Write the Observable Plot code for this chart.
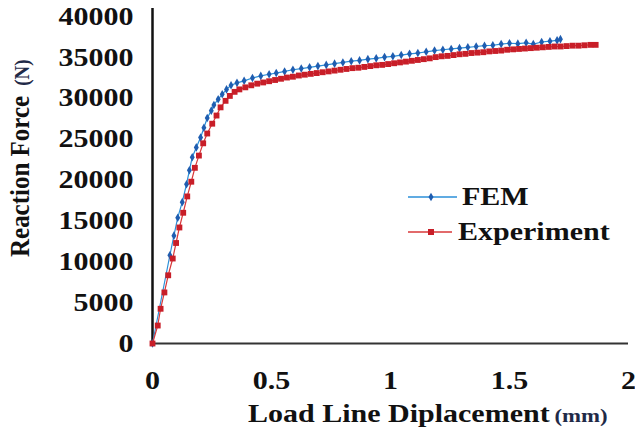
<!DOCTYPE html>
<html>
<head>
<meta charset="utf-8">
<script src="https://cdn.jsdelivr.net/npm/d3@7"></script>
<script src="https://cdn.jsdelivr.net/npm/@observablehq/plot@0.6"></script>
<style>
  html, body { margin: 0; padding: 0; background: #fff; }
  #chart { width: 635px; height: 430px; }
</style>
</head>
<body>
<div id="chart"></div>
<script>
// ---- data ----
const xTicks = [0, 0.5, 1, 1.5, 2];
const yTicks = [0, 5000, 10000, 15000, 20000, 25000, 30000, 35000, 40000];
const seriesNames = ["FEM", "Experiment"];

const femX = [0, 0.073, 0.090, 0.106, 0.125, 0.143, 0.155, 0.167, 0.184, 0.202, 0.216, 0.230, 0.247, 0.258, 0.276, 0.293, 0.311, 0.330, 0.355,
  0.385, 0.420, 0.455, 0.490, 0.520, 0.555, 0.590, 0.625, 0.660, 0.695, 0.730, 0.765, 0.800, 0.835, 0.870, 0.905, 0.940, 0.975,
  1.010, 1.045, 1.080, 1.115, 1.150, 1.185, 1.220, 1.255, 1.290, 1.325, 1.360, 1.395, 1.430, 1.465, 1.500, 1.535, 1.570, 1.600,
  1.635, 1.670, 1.700, 1.714];
const femY = [0, 10800, 13200, 15400, 17300, 19500, 21200, 22800, 24000, 25200, 26400, 27600, 28500, 29200, 29900, 30500, 31100, 31600, 31900,
  32150, 32500, 32750, 32950, 33100, 33300, 33500, 33650, 33800, 33950, 34100, 34250, 34400, 34550, 34650, 34800, 34900, 35050,
  35150, 35300, 35450, 35550, 35700, 35850, 35950, 36050, 36150, 36250, 36350, 36450, 36500, 36650, 36750, 36700, 36800, 36650,
  36900, 37000, 37100, 37250];

const expX = [0, 0.022, 0.034, 0.050, 0.066, 0.085, 0.099, 0.113, 0.129, 0.146, 0.163, 0.178, 0.195, 0.213, 0.230, 0.251, 0.269, 0.286, 0.307, 0.325, 0.345,
  0.365, 0.390, 0.415, 0.440, 0.465, 0.490, 0.515, 0.540, 0.565, 0.590, 0.615, 0.640, 0.665, 0.690, 0.715, 0.740, 0.765, 0.790, 0.815, 0.840,
  0.865, 0.890, 0.915, 0.940, 0.965, 0.990, 1.015, 1.040, 1.065, 1.090, 1.115, 1.140, 1.165, 1.190, 1.215, 1.240, 1.265, 1.290, 1.315, 1.340,
  1.365, 1.390, 1.415, 1.440, 1.465, 1.490, 1.515, 1.540, 1.565, 1.590, 1.615, 1.640, 1.665, 1.690, 1.715, 1.740, 1.765, 1.790, 1.815, 1.840, 1.862];
const expY = [0, 2200, 4250, 6250, 8350, 10400, 12300, 14200, 16000, 18000, 19800, 21500, 23000, 24500, 25700, 26900, 27900, 28900, 29700, 30300, 30800,
  31100, 31350, 31600, 31800, 31950, 32100, 32250, 32400, 32550, 32650, 32800, 32900, 33000, 33100, 33200, 33300, 33400, 33500, 33600, 33700,
  33750, 33850, 33950, 34050, 34100, 34200, 34300, 34400, 34500, 34600, 34700, 34800, 34900, 35050, 35150, 35200, 35300, 35400, 35450, 35550,
  35600, 35650, 35750, 35800, 35850, 35950, 36000, 36050, 36100, 36150, 36200, 36250, 36300, 36350, 36350, 36400, 36450, 36450, 36500, 36550, 36550];

// ---- styles ----
const femLine = "#2b8fd8", femMark = "#1f5db0";
const expLine = "#d8383a", expMark = "#c81e28";
const serif = "'Liberation Serif', 'Times New Roman', serif";

const fem = femX.map((x, i) => ({x, y: femY[i]}));
const exp = expX.map((x, i) => ({x, y: expY[i]}));

const chart = Plot.plot({
  width: 635,
  height: 430,
  marginLeft: 152,
  marginRight: 7,
  marginTop: 8,
  marginBottom: 87,
  style: {fontFamily: serif, fontWeight: "bold", fontSize: "25px", color: "#111", background: "#fff", overflow: "visible"},
  x: {domain: [0, 2]},
  y: {domain: [0, 41000]},
  marks: [
    Plot.axisX({ticks: xTicks, tickSize: 0, tickPadding: 28, label: null, fontSize: 25, tickFormat: d => String(d)}),
    Plot.axisY({ticks: yTicks, tickSize: 0, tickPadding: 19, label: null, fontSize: 25, tickFormat: d => String(d)}),
    Plot.ruleY([0], {stroke: "#333", strokeWidth: 2}),
    Plot.ruleX([0], {stroke: "#111", strokeWidth: 2.5}),
    Plot.line(fem, {x: "x", y: "y", stroke: femLine, strokeWidth: 1.2}),
    Plot.dot(fem, {x: "x", y: "y", symbol: "diamond", fill: femMark, r: 2.6}),
    Plot.line(exp, {x: "x", y: "y", stroke: expLine, strokeWidth: 1.2}),
    Plot.dot(exp, {x: "x", y: "y", symbol: "square", fill: expMark, r: 3.3})
  ]
});

document.getElementById("chart").appendChild(chart);

// horizontal stretch of tick labels, as in the reference
const svg = d3.select(chart.tagName.toLowerCase() === "svg" ? chart : chart.querySelector("svg"));
svg.selectAll('g[aria-label="x-axis tick label"] text, g[aria-label="y-axis tick label"] text').each(function() {
  const t = d3.select(this);
  const tr = t.attr("transform");
  if (tr) t.attr("transform", tr + " scale(1.2,1)");
  else {
    const x = +t.attr("x") || 0, y = +t.attr("y") || 0;
    t.attr("x", null).attr("y", null).attr("transform", `translate(${x},${y}) scale(1.2,1)`);
  }
});

// axis titles
const xt = svg.append("text")
  .attr("transform", "translate(248,422) scale(1.2,1)")
  .attr("text-anchor", "start")
  .attr("font-family", serif).attr("font-weight", "bold").attr("font-size", 25).attr("fill", "#111");
xt.append("tspan").text("Load Line Diplacement");
xt.append("tspan").attr("font-size", 19).attr("fill", "#1f2a48").attr("dx", 4).text("(mm)");

const yt = svg.append("text")
  .attr("transform", "translate(29,257) scale(1.08,1) rotate(-90)")
  .attr("text-anchor", "start")
  .attr("font-family", serif).attr("font-weight", "bold").attr("font-size", 25).attr("fill", "#111");
yt.append("tspan").text("Reaction Force");
yt.append("tspan").attr("font-size", 19).attr("fill", "#1f2a48").attr("dx", 10).text("(N)");

// legend
const leg = svg.append("g").attr("text-anchor", "start");
const items = [
  {name: seriesNames[0], y: 197, line: femLine, mark: femMark, sym: d3.symbolDiamond, size: 22, x2: 457, tx: 462},
  {name: seriesNames[1], y: 232, line: expLine, mark: expMark, sym: d3.symbolSquare, size: 36, x2: 452, tx: 458}
];
items.forEach(it => {
  leg.append("line").attr("x1", 408).attr("x2", it.x2).attr("y1", it.y).attr("y2", it.y)
    .attr("stroke", it.line).attr("stroke-width", 1.5);
  leg.append("path").attr("d", d3.symbol(it.sym, it.size)()).attr("transform", `translate(431,${it.y})`).attr("fill", it.mark);
  leg.append("text").attr("transform", `translate(${it.tx},${it.y + 8}) scale(1.2,1)`)
    .attr("text-anchor", "start")
    .attr("font-family", serif).attr("font-weight", "bold").attr("font-size", 25).attr("fill", "#111")
    .text(it.name);
});
</script>
</body>
</html>
